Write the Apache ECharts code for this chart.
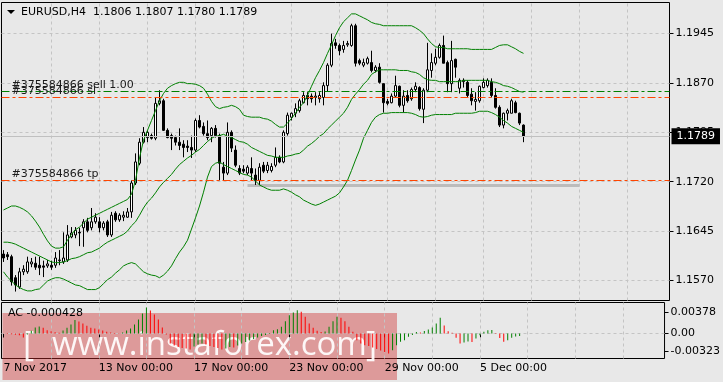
<!DOCTYPE html>
<html><head><meta charset="utf-8">
<script src="https://cdn.jsdelivr.net/npm/echarts@6/dist/echarts.min.js"></script>
<style>html,body{margin:0;padding:0;background:#e8e8e8;}#c{width:723px;height:382px;}</style>
</head><body><div id="c"></div>
<script>
// ---------- DATA (EURUSD H4, one value per bar) ----------
const symbolTitle = 'EURUSD,H4';
const open = [1.1610,1.1609,1.1606,1.1574,1.1560,1.1583,1.1583,1.1595,1.1596,1.1593,
1.1592,1.1592,1.1593,1.1593,1.1600,1.1598,1.1601,1.1636,1.1639,1.1643,
1.1650,1.1659,1.1650,1.1659,1.1659,1.1650,1.1659,1.1639,1.1672,1.1662,
1.1666,1.1666,1.1674,1.1718,1.1748,1.1780,1.1787,1.1790,1.1786,1.1839,
1.1843,1.1798,1.1790,1.1787,1.1780,1.1777,1.1774,1.1772,1.1768,1.1813,
1.1804,1.1793,1.1790,1.1801,1.1790,1.1742,1.1733,1.1795,1.1768,1.1740,
1.1739,1.1733,1.1740,1.1730,1.1722,1.1745,1.1737,1.1737,1.1745,1.1757,
1.1750,1.1793,1.1818,1.1824,1.1828,1.1840,1.1851,1.1850,1.1848,1.1846,
1.1848,1.1866,1.1897,1.1931,1.1927,1.1921,1.1928,1.1927,1.1957,1.1904,
1.1897,1.1900,1.1901,1.1889,1.1894,1.1869,1.1842,1.1840,1.1850,1.1865,
1.1836,1.1851,1.1846,1.1860,1.1863,1.1830,1.1859,1.1889,1.1900,1.1909,
1.1927,1.1901,1.1869,1.1906,1.1862,1.1872,1.1871,1.1853,1.1842,1.1843,
1.1863,1.1866,1.1871,1.1851,1.1833,1.1806,1.1824,1.1824,1.1840,1.1824,
1.1806];
const close = [1.1604,1.1606,1.1568,1.1563,1.1583,1.1587,1.1598,1.1598,1.1590,1.1589,
1.1590,1.1595,1.1590,1.1604,1.1601,1.1604,1.1639,1.1642,1.1646,1.1642,
1.1659,1.1646,1.1659,1.1666,1.1650,1.1657,1.1639,1.1669,1.1662,1.1669,
1.1669,1.1674,1.1718,1.1750,1.1780,1.1795,1.1795,1.1786,1.1839,1.1843,
1.1798,1.1787,1.1786,1.1780,1.1775,1.1772,1.1772,1.1768,1.1813,1.1803,
1.1793,1.1787,1.1801,1.1790,1.1748,1.1733,1.1795,1.1771,1.1745,1.1733,
1.1736,1.1742,1.1733,1.1722,1.1742,1.1736,1.1745,1.1743,1.1757,1.1750,
1.1795,1.1821,1.1824,1.1831,1.1843,1.1851,1.1846,1.1846,1.1850,1.1851,
1.1866,1.1897,1.1930,1.1927,1.1919,1.1927,1.1930,1.1957,1.1900,1.1900,
1.1901,1.1907,1.1889,1.1894,1.1871,1.1840,1.1839,1.1850,1.1866,1.1836,
1.1850,1.1843,1.1860,1.1865,1.1831,1.1859,1.1890,1.1901,1.1909,1.1927,
1.1900,1.1869,1.1904,1.1894,1.1874,1.1874,1.1851,1.1843,1.1845,1.1865,
1.1871,1.1874,1.1851,1.1833,1.1806,1.1824,1.1828,1.1843,1.1825,1.1809,
1.1789];
const low = [1.1598,1.1601,1.1562,1.1553,1.1557,1.1578,1.1580,1.1590,1.1586,1.1578,
1.1575,1.1589,1.1586,1.1589,1.1593,1.1595,1.1598,1.1634,1.1634,1.1622,
1.1621,1.1643,1.1646,1.1656,1.1643,1.1646,1.1636,1.1636,1.1659,1.1659,
1.1660,1.1665,1.1665,1.1715,1.1745,1.1778,1.1780,1.1784,1.1783,1.1836,
1.1797,1.1786,1.1768,1.1775,1.1768,1.1757,1.1765,1.1756,1.1765,1.1801,
1.1790,1.1783,1.1780,1.1787,1.1722,1.1722,1.1730,1.1765,1.1742,1.1730,
1.1733,1.1730,1.1722,1.1715,1.1715,1.1733,1.1733,1.1734,1.1742,1.1748,
1.1748,1.1790,1.1813,1.1818,1.1825,1.1839,1.1836,1.1840,1.1836,1.1840,
1.1836,1.1857,1.1894,1.1922,1.1912,1.1916,1.1925,1.1925,1.1895,1.1897,
1.1894,1.1898,1.1886,1.1886,1.1869,1.1825,1.1836,1.1839,1.1848,1.1833,
1.1825,1.1840,1.1843,1.1856,1.1828,1.1809,1.1856,1.1878,1.1897,1.1907,
1.1900,1.1856,1.1856,1.1878,1.1854,1.1863,1.1848,1.1836,1.1828,1.1840,
1.1862,1.1863,1.1848,1.1831,1.1803,1.1801,1.1813,1.1824,1.1824,1.1806,
1.1780];
const high = [1.1616,1.1613,1.1609,1.1578,1.1589,1.1593,1.1606,1.1604,1.1606,1.1606,
1.1600,1.1601,1.1600,1.1613,1.1616,1.1643,1.1654,1.1651,1.1651,1.1650,
1.1663,1.1665,1.1680,1.1672,1.1666,1.1660,1.1662,1.1674,1.1675,1.1672,
1.1675,1.1680,1.1722,1.1763,1.1786,1.1803,1.1798,1.1793,1.1848,1.1859,
1.1846,1.1801,1.1793,1.1790,1.1801,1.1783,1.1783,1.1790,1.1816,1.1821,
1.1810,1.1813,1.1803,1.1806,1.1793,1.1750,1.1810,1.1798,1.1775,1.1745,
1.1745,1.1745,1.1757,1.1740,1.1748,1.1750,1.1750,1.1748,1.1772,1.1760,
1.1798,1.1825,1.1825,1.1839,1.1846,1.1856,1.1856,1.1854,1.1856,1.1856,
1.1871,1.1900,1.1945,1.1937,1.1930,1.1934,1.1934,1.1960,1.1960,1.1907,
1.1907,1.1910,1.1919,1.1897,1.1900,1.1869,1.1846,1.1854,1.1881,1.1866,
1.1859,1.1859,1.1863,1.1871,1.1865,1.1862,1.1931,1.1915,1.1922,1.1930,
1.1942,1.1904,1.1934,1.1907,1.1877,1.1877,1.1874,1.1862,1.1856,1.1866,
1.1877,1.1877,1.1877,1.1862,1.1836,1.1825,1.1831,1.1846,1.1843,1.1825,
1.1807];
const bbUpper = [1.1677,1.1680,1.1683,1.1683,1.1681,1.1678,1.1674,1.1668,1.1660,1.1651,
1.1640,1.1630,1.1622,1.1619,1.1619,1.1621,1.1631,1.1640,1.1647,1.1651,
1.1657,1.1663,1.1666,1.1669,1.1672,1.1675,1.1678,1.1681,1.1684,1.1687,
1.1690,1.1693,1.1701,1.1722,1.1756,1.1783,1.1798,1.1813,1.1828,1.1843,
1.1854,1.1862,1.1866,1.1869,1.1871,1.1871,1.1869,1.1869,1.1868,1.1866,
1.1862,1.1853,1.1842,1.1834,1.1831,1.1833,1.1834,1.1836,1.1834,1.1830,
1.1821,1.1819,1.1818,1.1818,1.1818,1.1816,1.1815,1.1812,1.1807,1.1803,
1.1803,1.1809,1.1816,1.1824,1.1833,1.1840,1.1851,1.1865,1.1878,1.1889,
1.1901,1.1915,1.1928,1.1942,1.1954,1.1963,1.1969,1.1975,1.1975,1.1972,
1.1969,1.1966,1.1962,1.1960,1.1959,1.1957,1.1957,1.1957,1.1957,1.1957,
1.1957,1.1957,1.1957,1.1954,1.1950,1.1945,1.1937,1.1930,1.1925,1.1924,
1.1924,1.1922,1.1922,1.1922,1.1922,1.1922,1.1922,1.1921,1.1921,1.1921,
1.1921,1.1921,1.1921,1.1924,1.1927,1.1928,1.1928,1.1925,1.1922,1.1918,
1.1915];
const bbMiddle = [1.1628,1.1628,1.1627,1.1625,1.1622,1.1619,1.1616,1.1613,1.1610,1.1607,
1.1604,1.1601,1.1598,1.1597,1.1597,1.1598,1.1600,1.1603,1.1604,1.1606,
1.1609,1.1612,1.1613,1.1616,1.1619,1.1624,1.1628,1.1631,1.1634,1.1637,
1.1640,1.1645,1.1653,1.1659,1.1669,1.1680,1.1689,1.1695,1.1703,1.1712,
1.1719,1.1725,1.1731,1.1739,1.1746,1.1751,1.1756,1.1760,1.1765,1.1769,
1.1775,1.1781,1.1786,1.1789,1.1790,1.1792,1.1789,1.1787,1.1784,1.1781,
1.1780,1.1777,1.1772,1.1769,1.1766,1.1763,1.1760,1.1759,1.1757,1.1757,
1.1757,1.1759,1.1760,1.1762,1.1763,1.1768,1.1774,1.1778,1.1783,1.1789,
1.1793,1.1800,1.1806,1.1812,1.1818,1.1824,1.1833,1.1845,1.1853,1.1860,
1.1868,1.1874,1.1883,1.1887,1.1890,1.1890,1.1890,1.1890,1.1890,1.1889,
1.1889,1.1889,1.1887,1.1886,1.1883,1.1878,1.1875,1.1874,1.1874,1.1872,
1.1872,1.1872,1.1872,1.1872,1.1872,1.1874,1.1874,1.1874,1.1874,1.1874,
1.1874,1.1874,1.1872,1.1871,1.1869,1.1866,1.1865,1.1863,1.1860,1.1857,
1.1856];
const bbLower = [1.1583,1.1575,1.1569,1.1563,1.1559,1.1556,1.1554,1.1554,1.1556,1.1557,
1.1563,1.1569,1.1572,1.1574,1.1574,1.1572,1.1569,1.1566,1.1563,1.1562,
1.1559,1.1556,1.1556,1.1556,1.1559,1.1565,1.1571,1.1575,1.1581,1.1586,
1.1592,1.1595,1.1597,1.1595,1.1589,1.1583,1.1580,1.1578,1.1577,1.1574,
1.1578,1.1584,1.1592,1.1603,1.1613,1.1621,1.1631,1.1648,1.1665,1.1683,
1.1704,1.1727,1.1743,1.1748,1.1750,1.1746,1.1743,1.1740,1.1737,1.1734,
1.1731,1.1730,1.1727,1.1721,1.1715,1.1712,1.1709,1.1707,1.1707,1.1707,
1.1709,1.1707,1.1704,1.1700,1.1697,1.1692,1.1689,1.1686,1.1684,1.1686,
1.1689,1.1692,1.1695,1.1698,1.1703,1.1712,1.1722,1.1737,1.1753,1.1768,
1.1786,1.1798,1.1810,1.1818,1.1822,1.1824,1.1824,1.1825,1.1825,1.1825,
1.1825,1.1825,1.1824,1.1822,1.1819,1.1818,1.1819,1.1821,1.1822,1.1822,
1.1822,1.1822,1.1822,1.1824,1.1824,1.1824,1.1824,1.1824,1.1825,1.1827,
1.1827,1.1827,1.1825,1.1822,1.1818,1.1813,1.1809,1.1804,1.1801,1.1798,
1.1795];
const acValues = [-0.00005,-0.00009,-0.00014,-0.00022,-0.00032,-0.00072,-0.00018,0.00049,0.00108,0.00126,
0.00103,0.00059,0.00041,0.00023,0.00013,0.00054,0.00103,0.00162,0.00243,0.00216,
0.00180,0.00139,0.00103,0.00090,0.00072,0.00054,0.00031,0.00018,0.00009,0.00005,
0.00018,0.00054,0.00090,0.00162,0.00252,0.00360,0.00468,0.00414,0.00342,0.00252,
0.00108,-0.00018,-0.00180,-0.00216,-0.00243,-0.00261,-0.00270,-0.00288,-0.00234,-0.00198,
-0.00180,-0.00198,-0.00225,-0.00243,-0.00261,-0.00288,-0.00270,-0.00243,-0.00252,-0.00216,
-0.00180,-0.00153,-0.00126,-0.00099,-0.00072,-0.00045,-0.00027,-0.00009,0.00059,0.00077,
0.00121,0.00221,0.00329,0.00378,0.00419,0.00391,0.00301,0.00180,0.00103,0.00049,
0.00027,0.00036,0.00121,0.00221,0.00301,0.00283,0.00221,0.00121,0.00031,-0.00121,
-0.00180,-0.00211,-0.00225,-0.00252,-0.00279,-0.00306,-0.00333,-0.00360,-0.00301,-0.00211,
-0.00149,-0.00121,-0.00059,-0.00027,0.00027,0.00018,0.00045,0.00072,0.00108,0.00180,
0.00283,0.00144,0.00041,0.00013,-0.00077,-0.00180,-0.00162,-0.00144,-0.00153,-0.00090,
-0.00031,0.00031,0.00059,0.00065,0.00009,-0.00081,-0.00149,-0.00121,-0.00077,-0.00054,
-0.000428];
// time axis labels (bar index -> text)
const timeLabelIndex = [0, 24, 48, 72, 96, 120];
const timeLabelText = ['7 Nov 2017', '13 Nov 00:00', '17 Nov 00:00', '23 Nov 00:00', '29 Nov 00:00', '5 Dec 00:00'];
// price scale tick labels
const priceTicks = [1.1570, 1.1645, 1.1720, 1.1795, 1.1870, 1.1945];
const acTicks = [-0.00323, 0, 0.00378];
const acTickText = ['-0.00323', '0.00', '0.00378'];
// order lines
const orderId = '#375584866';
const sellPrice = 1.1857;
const slPrice = 1.1848;
const tpPrice = 1.1722;
// grey horizontal segment (bar index range, price)
const segStart = 61, segEnd = 144, segPrice = 1.1715;

// ---------- CHART ----------
const FONT = 'DejaVu Sans';
const N = 167; // bar slots across the chart width (incl. empty future)
const cats = Array.from({length: N}, (_, i) => String(i));
const last = close.length - 1;
const candles = open.map((o, i) => [o, close[i], low[i], high[i]]);
const acColor = acValues.map((v, i) => (i > 0 && v > acValues[i - 1]) ? '#008000' : '#ff0000');
const vGrid = [];
for (let k = 12; k < N; k += 12) vGrid.push(k);
const GRIDC = '#c4c4c4';
const ORANGE = '#ff4500';
const PRICE_MAX = 1.19923, PRICE_MIN = 1.15394;

const chart = echarts.init(document.getElementById('c'), null, {renderer: 'canvas'});
const txt = {fontFamily: FONT, fontSize: 11, color: '#000'};

function orderLine(price, color, text) {
  const ls = {color: color, width: 1, type: [8, 3, 3, 3], opacity: 1};
  return {
    type: 'line', xAxisIndex: 0, yAxisIndex: 0, data: [], symbol: 'none', silent: true, z: 4,
    color: color, lineStyle: {color: color}, itemStyle: {color: color},
    markLine: {silent: true, symbol: 'none', precision: 6, animation: false,
      lineStyle: ls,
      label: {show: true, formatter: text, position: 'insideStartTop', distance: [10, 1], fontFamily: FONT, fontSize: 11, color: '#1a1a1a'},
      data: [{yAxis: price, lineStyle: ls}]}
  };
}

chart.setOption({
  animation: false,
  backgroundColor: '#e8e8e8',
  title: [
    {text: `AC ${acValues[last].toFixed(6)}`, left: 8, top: 308, padding: 0, textStyle: Object.assign({fontWeight: 'normal'}, txt)}
  ],
  grid: [
    {left: 1.5, top: 2.5, width: 668, height: 298, show: true, borderColor: '#000', borderWidth: 1, backgroundColor: 'transparent'},
    {left: 1.5, top: 302.5, width: 668, height: 56, show: true, borderColor: '#000', borderWidth: 1, backgroundColor: 'transparent'}
  ],
  xAxis: [
    {type: 'category', gridIndex: 0, data: cats, boundaryGap: true, axisLine: {show: false}, axisTick: {show: false}, axisLabel: {show: false}, splitLine: {show: false}},
    {type: 'category', gridIndex: 1, data: cats, boundaryGap: true, axisLine: {show: false},
     axisTick: {show: true, alignWithLabel: true, length: 4, interval: (i) => timeLabelIndex.indexOf(i) >= 0, lineStyle: {color: '#000'}},
     axisLabel: Object.assign({show: true, interval: (i) => timeLabelIndex.indexOf(i) >= 0, align: 'left', margin: 4,
       formatter: (v, i) => { const k = timeLabelIndex.indexOf(Number(v)); return k >= 0 ? timeLabelText[k] : ''; }}, txt),
     splitLine: {show: false}}
  ],
  yAxis: [
    {type: 'value', gridIndex: 0, position: 'right', min: PRICE_MIN, max: PRICE_MAX, scale: true,
     axisLine: {show: false}, splitLine: {show: false},
     axisTick: {show: true, length: 4, customValues: priceTicks, lineStyle: {color: '#000'}},
     axisLabel: Object.assign({show: true, margin: 6, customValues: priceTicks, formatter: (v) => v.toFixed(4)}, txt)},
    {type: 'value', gridIndex: 1, position: 'right', min: -0.0045, max: 0.00558,
     axisLine: {show: false}, splitLine: {show: false},
     axisTick: {show: true, length: 4, customValues: acTicks, lineStyle: {color: '#000'}},
     axisLabel: Object.assign({show: true, margin: 6, customValues: acTicks,
       formatter: (v) => { let k = -1; acTicks.forEach((t, j) => { if (Math.abs(t - v) < 1e-7) k = j; }); return k >= 0 ? acTickText[k] : ''; }}, txt)}
  ],
  series: [
    { // grid lines of the price panel
      type: 'line', xAxisIndex: 0, yAxisIndex: 0, data: close, symbol: 'none', silent: true, z: 1,
      lineStyle: {opacity: 0}, tooltip: {show: false},
      markLine: {silent: true, symbol: 'none', z: 1, precision: 6, animation: false, label: {show: false},
        lineStyle: {color: GRIDC, type: [3, 3], width: 1},
        data: priceTicks.map(v => ({yAxis: v})).concat(vGrid.map(k => ({xAxis: k})))}
    },
    { // bid line
      type: 'line', xAxisIndex: 0, yAxisIndex: 0, data: [], symbol: 'none', silent: true, z: 1,
      markLine: {silent: true, symbol: 'none', z: 6, precision: 6, animation: false,
        lineStyle: {color: '#c0c0c0', type: 'solid', width: 1},
        label: {show: true, position: 'end', distance: 2, formatter: close[last].toFixed(4), backgroundColor: '#000', color: '#fff',
          fontFamily: FONT, fontSize: 11, lineHeight: 12, padding: [2, 5, 2, 5]},
        data: [{yAxis: close[last]}]}
    },
    { // grey horizontal segment
      type: 'line', xAxisIndex: 0, yAxisIndex: 0, data: [], symbol: 'none', silent: true, z: 1,
      markLine: {silent: true, symbol: 'none', z: 1, precision: 6, animation: false, label: {show: false},
        lineStyle: {color: '#bcbcbc', width: 3, type: 'solid'},
        data: [[{coord: [segStart, segPrice]}, {coord: [segEnd, segPrice]}]]}
    },
    {
      type: 'candlestick', xAxisIndex: 0, yAxisIndex: 0, data: candles, barWidth: 2, z: 2,
      itemStyle: {color: '#ffffff', color0: '#000000', borderColor: '#000000', borderColor0: '#000000', borderWidth: 1},
      emphasis: {disabled: true}
    },
    {type: 'line', xAxisIndex: 0, yAxisIndex: 0, data: bbUpper, symbol: 'none', z: 3, lineStyle: {color: '#008000', width: 1}},
    {type: 'line', xAxisIndex: 0, yAxisIndex: 0, data: bbMiddle, symbol: 'none', z: 3, lineStyle: {color: '#008000', width: 1}},
    {type: 'line', xAxisIndex: 0, yAxisIndex: 0, data: bbLower, symbol: 'none', z: 3, lineStyle: {color: '#008000', width: 1}},
    orderLine(sellPrice, '#008000', orderId + ' sell 1.00'),
    orderLine(slPrice, ORANGE, orderId + ' sl'),
    orderLine(tpPrice, ORANGE, orderId + ' tp'),
    { // AC grid lines
      type: 'line', xAxisIndex: 1, yAxisIndex: 1, data: acValues, symbol: 'none', silent: true, z: 1,
      lineStyle: {opacity: 0},
      markLine: {silent: true, symbol: 'none', z: 1, precision: 6, animation: false, label: {show: false},
        lineStyle: {color: GRIDC, type: [3, 3], width: 1},
        data: [{yAxis: 0}].concat(vGrid.map(k => ({xAxis: k})))}
    },
    {
      type: 'bar', xAxisIndex: 1, yAxisIndex: 1, data: acValues, barWidth: 1, z: 2,
      itemStyle: {color: (p) => acColor[p.dataIndex]}, emphasis: {disabled: true}
    }
  ],
  graphic: [
    {type: 'polygon', shape: {points: [[7, 10], [15, 10], [11, 14]]}, style: {fill: '#000'}, z: 50},
    {type: 'text', x: 21, y: 7, z: 50, style: {
      text: `${symbolTitle}  ${open[last].toFixed(4)} ${high[last].toFixed(4)} ${low[last].toFixed(4)} ${close[last].toFixed(4)}`,
      font: '11px "DejaVu Sans"', fill: '#000'}},
    {type: 'group', z: 100, children: [
      {type: 'rect', shape: {x: 2.5, y: 313, width: 394.5, height: 67}, style: {fill: 'rgba(205,45,45,0.42)'}},
      {type: 'text', x: 23, y: 329, style: {text: '[', font: '34px "Open Sans"', fill: 'rgba(255,255,255,0.92)'}},
      {type: 'text', x: 52, y: 329, style: {text: 'www.instaforex.com', font: '33px "Open Sans"', fill: 'rgba(255,255,255,0.92)'}},
      {type: 'text', x: 366, y: 329, style: {text: ']', font: '34px "Open Sans"', fill: 'rgba(255,255,255,0.92)'}}
    ]}
  ]
});
</script>
</body></html>
